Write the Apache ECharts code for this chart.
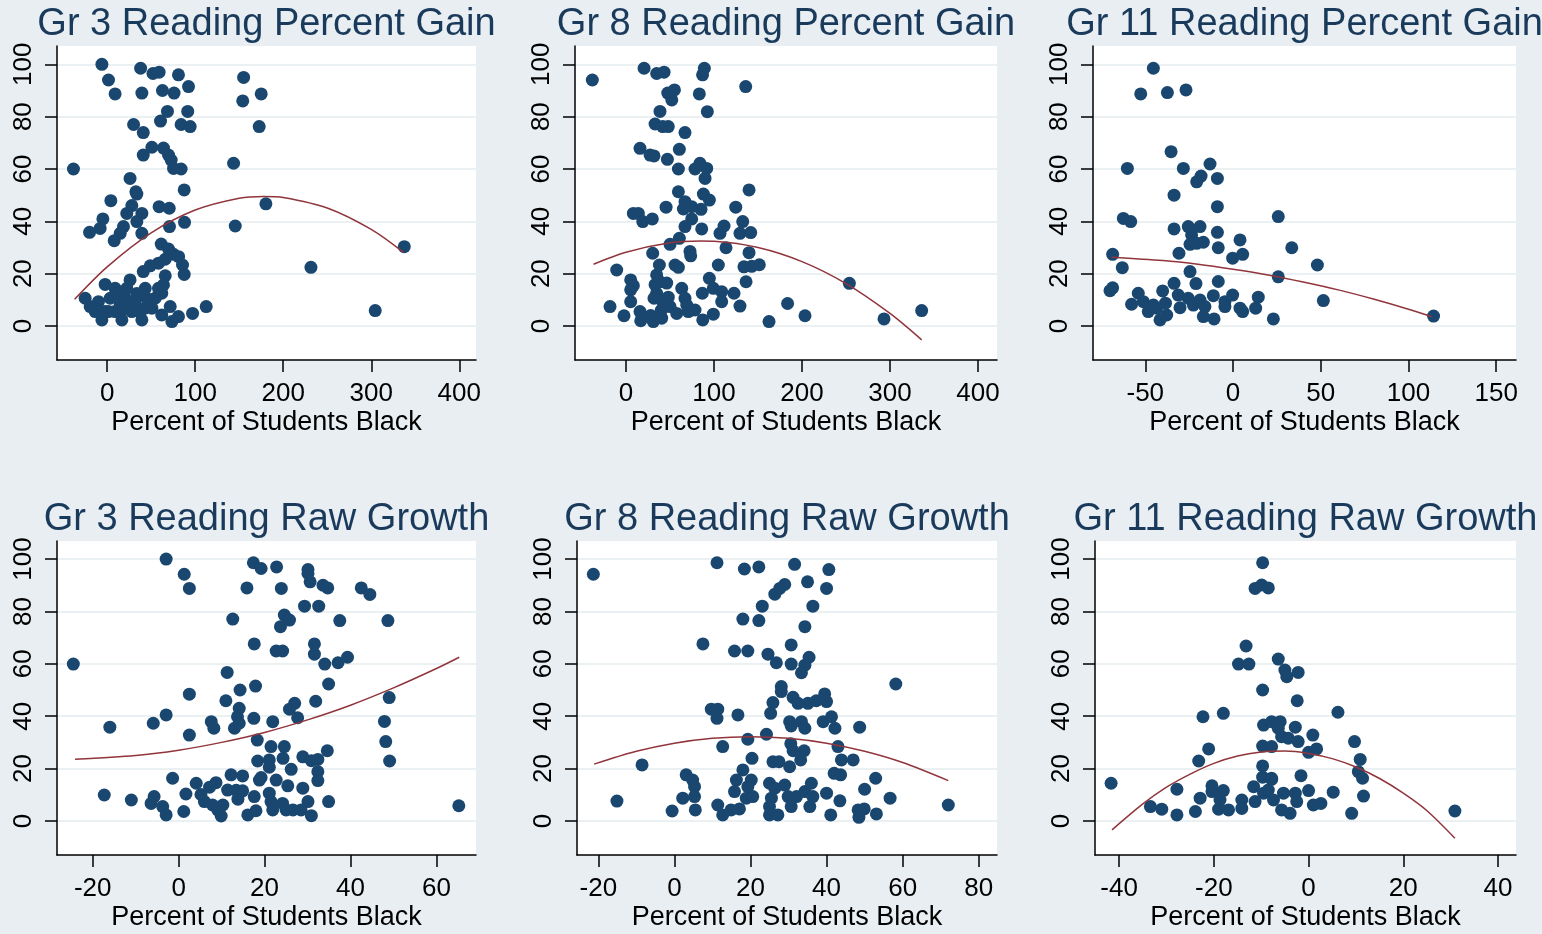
<!DOCTYPE html>
<html><head><meta charset="utf-8">
<script src="https://cdn.jsdelivr.net/npm/echarts@6/dist/echarts.min.js"></script>
<style>html,body{margin:0;padding:0;background:#e8eef2;}#c{width:1542px;height:934px;}</style>
</head><body><div id="c"></div>
<script>
const titles = ['Gr 3 Reading Percent Gain','Gr 8 Reading Percent Gain','Gr 11 Reading Percent Gain','Gr 3 Reading Raw Growth','Gr 8 Reading Raw Growth','Gr 11 Reading Raw Growth'];
const xAxisName = 'Percent of Students Black';
const yTicks = [0,20,40,60,80,100];
const xTicksGr3Pct = [0,100,200,300,400];
const xTicksGr8Pct = [0,100,200,300,400];
const xTicksGr11Pct = [-50,0,50,100,150];
const xTicksGr3Raw = [-20,0,20,40,60];
const xTicksGr8Raw = [-20,0,20,40,60,80];
const xTicksGr11Raw = [-40,-20,0,20,40];

const gr3PctPoints = [[-6,100],[1.5,94],[9,88.7],[38,98.5],[52,96.5],[59,97],[81,96],[92.4,91.5],[39.4,89],[62.8,90],[76,89],[68.5,82],[91.5,82],[60.6,78.3],[84,77],[94.3,76.2],[30,77],[41,73.9],[50.8,68.3],[64,68],[41,65.3],[69.7,65.3],[72.7,63.4],[75.4,60.2],[84,60],[-38.3,60],[143.6,62.2],[155,95],[154,86],[175,88.7],[172.7,76.2],[26,56.4],[32.6,51.3],[33.7,50.4],[87.5,52],[4.2,47.9],[28,46],[22.3,43],[39.4,43],[59,45.6],[70.5,45],[33.7,39.9],[87.9,39.6],[70.8,38],[145.5,38.2],[-4.9,40.9],[-8,37.3],[-20,35.8],[18.5,38],[14.8,35.4],[8,32.6],[39.4,35.4],[180.3,46.7],[337.5,30.3],[231.5,22.4],[304.5,5.9],[112.5,7.4],[61.4,31.3],[69.7,29.4],[75.4,27.4],[81.2,26.5],[85.6,23.3],[87.5,19.7],[65.9,25.5],[58.3,24],[48.9,23],[41,20.8],[66,19.2],[64,15.7],[62,12.5],[-2.3,15.9],[9,14.4],[26,17.6],[22.3,14.4],[43.2,14.4],[-25,10.6],[-19.3,7.4],[-9.9,9.3],[-2.3,5.5],[-6,2.3],[3.4,10.6],[14.8,8],[16.7,2.3],[20.5,10.6],[28,5.5],[31.8,9.3],[39.4,2.3],[37.5,5.5],[45,10.6],[50.8,6.8],[54.5,10.6],[58.3,14.4],[62,4.2],[71.6,7.4],[73.5,1.7],[81,3.6],[97,4.8],[11,12.4],[33.7,12.4],[16.7,6.1],[9,5.5],[26,6.8],[43,6.8],[1.5,5.5],[-13.6,5.5]];
const gr3PctFit = [[-37,10.2],[0,22.6],[50,35.6],[100,44.3],[150,48.8],[178,49.5],[200,49.1],[250,45.1],[300,36.9],[336.7,28.1]];

const gr8PctPoints = [[-38.3,94],[20.5,98.5],[34.8,96.5],[43.2,97],[89,98.5],[87,96],[136,91.5],[47.4,89],[55,90.2],[52,86.4],[83.3,88.7],[92.4,81.9],[38.6,82],[33,77.2],[41.7,76.2],[48,76.2],[67,73.9],[15.9,67.9],[27.3,65.3],[31.8,65],[60.6,67.5],[47,63.7],[84,62.2],[91.7,60.2],[78.4,60],[89.8,56.4],[59.5,60],[59.5,51.3],[87.9,50.4],[94.7,48.1],[67,47.5],[74.6,45.6],[65.2,44.7],[85.2,44.6],[45.5,45.4],[139.8,52],[124.7,45.4],[8.3,43],[14,43],[19,39.9],[29.9,40.9],[74.6,40.9],[67,38],[86,37.1],[111.4,38.2],[106.8,35.4],[132.6,39.9],[129.5,35.4],[141.7,35.7],[50,31.2],[60.6,33.5],[30.3,27.8],[72.7,28.5],[73.5,26.8],[113.6,29.9],[139.8,28],[-10.6,21.4],[37.9,23.3],[55.7,23.3],[59.5,22.4],[104.9,23.3],[134,22.6],[142.8,22.8],[151.5,23.4],[5.3,17.6],[8.3,15.4],[5.3,13.8],[34.8,19.5],[38.6,16.9],[33,15.8],[46.2,16.4],[34.8,12.5],[63.3,14.4],[67,10.6],[94.7,18.2],[99.2,14.4],[108.7,13.1],[122.7,12.5],[86.7,12.5],[136.4,16.9],[-18.2,7.4],[5.3,9.3],[-2.3,3.9],[15.9,5.5],[16.7,2],[31,1.7],[40.5,3],[31.8,10.6],[41.7,9.3],[50,7.4],[57.6,4.8],[69,8],[78.4,6.1],[70.8,5.5],[87.2,2.3],[99.2,4.5],[108.7,9.3],[129.5,7.6],[162.5,1.7],[183.6,8.6],[253.8,16.3],[203.4,3.9],[293.2,2.7],[336,5.9],[40,6],[48,11],[28,4]];
const gr8PctFit = [[-37,23.6],[0,28.2],[50,31.8],[85,32.5],[100,32.4],[150,30],[200,24.6],[250,16.2],[300,4.8],[336,-5.3]];

const gr11PctPoints = [[-45.4,98.5],[-52.6,88.7],[-37.4,89.2],[-26.8,90.2],[-35.3,66.6],[-60.2,60.2],[-28.3,60.2],[-13.1,61.9],[-18.2,57.3],[-20.7,55.1],[-8.9,56.4],[-33.6,50],[-8.9,45.6],[-62.5,41.1],[-58.3,39.9],[25.8,41.8],[-33.6,37.1],[-25.5,38],[-18.8,38],[-23.6,34.8],[-24.5,31.2],[-16.9,32],[-20.7,31.6],[-8.9,35.8],[4,32.9],[-8.4,29.9],[33.5,29.9],[-30.8,27.8],[-68.6,27.4],[-0.2,25.9],[5.5,27.4],[-63.1,22.3],[-24.5,20.8],[48.1,23.3],[25.8,18.8],[-33.6,16.3],[-21.1,16.2],[-8.4,17],[-70.1,13.5],[-68.6,14.6],[-54,12.5],[-40.1,13.4],[-57.8,8.3],[-51.1,9.3],[-48.3,5.5],[-43.5,6.8],[-41.6,2.3],[-37.8,4.2],[-38.5,8.7],[-45.4,8],[-31.2,11.8],[-30.2,7],[-25.5,10.6],[-22.6,8],[-18.8,9.9],[-16,7.4],[-16.9,3.6],[-11.2,11.6],[-10.8,2.7],[-4.6,9.3],[-4.6,7.4],[-0.2,11.8],[4,6.8],[5.5,5.5],[12.9,6.8],[14.4,11],[23,2.7],[51.5,9.7],[114.3,3.8]];
const gr11PctFit = [[-69.2,26.3],[-40,25],[-20,23.6],[0,21.7],[20,19.5],[40,16.8],[60,13.8],[80,10.3],[100,6.4],[113.3,3.5]];

const gr3RawPoints = [[-24.5,59.9],[-2.9,100],[1.3,94.2],[2.5,88.8],[17.4,98.6],[19.2,96.4],[22.8,97],[30.1,96],[30.1,94.5],[30.6,91.3],[33.6,90],[34.7,89],[15.9,89],[23.9,88.8],[42.5,89],[44.5,86.5],[29.3,82],[32.6,82],[12.6,77.1],[24.6,78.6],[25.8,76.7],[23.7,74.2],[37.5,76.5],[48.7,76.5],[17.6,67.6],[22.7,64.9],[24.2,64.9],[31.6,67.6],[31.6,63.7],[34,59.9],[37.1,60.4],[39.3,62.5],[11.3,56.7],[14.3,50],[17.9,51.5],[34.9,52.3],[2.5,48.4],[11,45.9],[27,44.9],[25.8,42.7],[31.9,45.7],[49,47.1],[-2.9,40.5],[-5.9,37.3],[-16,35.8],[7.6,37.9],[8.2,35.4],[14.1,43],[13.7,39.8],[14.1,37.3],[13,35.4],[17.5,39.2],[21.9,37.9],[27.7,39.4],[47.9,38],[2.5,32.8],[48.2,30.3],[18.3,30.9],[21.5,28.4],[24.6,28.4],[34.6,26.8],[18.4,22.9],[21.1,23.3],[21.1,20.5],[24.3,23.9],[26.2,19.7],[28.9,24.5],[30.9,23],[32.4,23.5],[49.1,22.9],[32.4,18.8],[32.4,15.4],[-1.4,16.3],[4.1,14.4],[12.2,17.6],[14.9,17.2],[8.7,14.6],[7.2,12.9],[18.8,15.6],[19.2,16.6],[22.7,15.6],[25.4,13.4],[-17.3,9.9],[-11,8],[-5.7,9.3],[-6.4,6.7],[-3.7,5.5],[-2.9,2.3],[1.2,3.6],[1.7,10.3],[5.2,10.1],[6,7.4],[7.9,6.1],[9.1,4.2],[9.9,1.9],[10.3,6.1],[11.4,11.8],[13.4,11.7],[13.8,8.3],[14.9,11.5],[16.1,2.3],[18,3.9],[17.6,9.3],[21.1,10.6],[21.9,4.2],[21.5,7.4],[24.2,6.7],[25,4.2],[26.6,4.2],[28.5,4.2],[28.9,12.5],[30.1,7.4],[30.9,2],[34.9,7.4],[65.2,5.8]];
const gr3RawFit = [[-24.1,23.6],[-10,25],[0,27],[10,30],[20,33.8],[30,38.6],[40,44.2],[50,50.8],[60,58.2],[65.3,62.5]];

const gr8RawPoints = [[-21.3,94.2],[11.2,98.6],[18.4,96.2],[22.2,97],[31.6,98],[40.6,96],[40,88.8],[35,91.3],[26.4,86.6],[27.7,88.8],[29,90.3],[23.1,82],[36.4,82],[18,77.1],[22.2,76.5],[34.3,74.2],[7.5,67.6],[30.7,67.2],[15.8,64.9],[19.3,64.9],[24.6,63.7],[26.8,60.4],[30.7,59.9],[35.4,62.5],[34.3,59.5],[33.4,56.6],[28.1,51.3],[28.1,49.4],[58.2,52.3],[25.9,45.2],[25.3,41.1],[31.2,47.2],[32.5,44.9],[35.1,44.9],[37.3,45.9],[39.5,48.5],[40,45.6],[9.7,42.7],[11.4,42.7],[11.2,39.2],[16.7,40.5],[30.3,37.9],[30.7,36.3],[33.4,37.9],[34.3,35.4],[39.1,37.9],[41.3,39.8],[42.2,35.4],[48.7,35.8],[24.2,33.1],[19.3,31.2],[12.7,28.4],[30.6,29.5],[31.2,26.8],[34.1,26.8],[33.2,23.3],[43,28.4],[20.4,23.9],[25.9,22.6],[27.5,22.6],[30.3,20.7],[43.9,23.3],[47,23.3],[-8.5,21.4],[3.1,17.6],[4.8,15.6],[5.3,13.1],[5.3,9.3],[2.2,8.7],[-0.6,3.8],[5.5,4.2],[-15.1,7.6],[11.4,6.1],[12.7,2.3],[14.9,4.2],[17.1,4.6],[16.3,15.6],[15.8,11.2],[18,19.5],[19.3,13.1],[20.2,15.6],[18.9,8.7],[20.6,9.3],[25,14.4],[26.4,12.5],[25.5,8.7],[25,5.5],[25,2.3],[27.2,2.3],[29,13.7],[29.9,9.3],[30.7,5.5],[32.1,9.3],[34.3,11.2],[36,14.4],[35.6,5.5],[36.4,9.3],[40,10.6],[41.1,2.3],[42,18.2],[43.7,17.6],[43.5,7.7],[48.3,4.2],[49.9,4.6],[48.5,1.4],[50,12.1],[52.9,16.3],[53.1,2.7],[56.7,8.7],[72,6.1]];
const gr8RawFit = [[-21.1,21.7],[-10,26.6],[0,29.7],[10,31.6],[20,32.2],[30,31.6],[40,29.7],[50,26.6],[60,22.3],[72,15.4]];

const gr11RawPoints = [[-41.7,14.4],[-9.7,98.6],[-11.3,88.8],[-9.9,90.1],[-8.5,89],[-13.2,66.8],[-14.8,59.9],[-12.6,59.9],[-6.4,61.8],[-5,57.6],[-4.6,55.1],[-2.2,56.7],[-9.7,50],[-2.4,45.9],[-22.3,39.8],[-18,41.1],[6.2,41.5],[-9.5,36.6],[-7.8,37.9],[-6,37.9],[-6.4,35.4],[-5.7,32.2],[-4.3,31.6],[-2.8,35.8],[-2.2,30.3],[0.9,32.8],[-9.7,28.6],[-7.8,28.4],[0,26.2],[1.7,27.5],[9.7,30.3],[-21.1,27.5],[-23.2,22.9],[10.9,23.5],[-9.7,21],[10.5,18.8],[11.4,16.3],[11.6,9.5],[-1.6,17.3],[-9.7,16.7],[-7.8,16.3],[-33.4,5.5],[-31,4.5],[-27.8,2.3],[-27.8,12.1],[-23.9,3.6],[-22.9,8.7],[-20.4,13.4],[-20.4,11.2],[-18,11.6],[-18.7,8],[-19,4.5],[-16.9,4.2],[-14.1,8],[-14.1,4.8],[-11.6,13.1],[-11.3,7.4],[-9.5,10.6],[-7.8,15.9],[-8.5,11.8],[-7.4,8],[-5.7,4.2],[-5.3,10.6],[-3.9,2.9],[-2.8,10.6],[-2.5,7.4],[0,11.6],[1,6.1],[2.6,6.7],[5.2,11],[9.1,2.9],[30.9,3.8]];
const gr11RawFit = [[-41.5,-3.4],[-35,6.5],[-30,12.9],[-25,17.9],[-20,22],[-15,24.8],[-10,26.3],[-5,26.7],[0,25.8],[5,23.8],[10,20.6],[15,16.2],[20,10.6],[25,3.9],[30.9,-6.6]];

const FONT = '"Liberation Sans", Arial, Helvetica, sans-serif';
const panels = [
  {pts: gr3PctPoints, fit: gr3PctFit, xt: xTicksGr3Pct, box: [57,46,419,314], xr: [-57,419], yr: [-13,107]},
  {pts: gr8PctPoints, fit: gr8PctFit, xt: xTicksGr8Pct, box: [575,46,422,314], xr: [-58,421.6], yr: [-13,107]},
  {pts: gr11PctPoints, fit: gr11PctFit, xt: xTicksGr11Pct, box: [1093,46,423,314], xr: [-79.8,161.3], yr: [-13,107]},
  {pts: gr3RawPoints, fit: gr3RawFit, xt: xTicksGr3Raw, box: [57,541,419,314], xr: [-28.3,69.2], yr: [-13,106.9]},
  {pts: gr8RawPoints, fit: gr8RawFit, xt: xTicksGr8Raw, box: [577,541,420,314], xr: [-25.6,84.8], yr: [-13,106.9]},
  {pts: gr11RawPoints, fit: gr11RawFit, xt: xTicksGr11Raw, box: [1095,541,421,314], xr: [-45.1,43.8], yr: [-13,106.9]}
];

const chart = echarts.init(document.getElementById('c'), null, {renderer: 'canvas'});
const axisLine = {show: true, onZero: false, lineStyle: {color: '#000', width: 1.5}};
const option = {
  animation: false,
  backgroundColor: '#e8eef2',
  title: panels.map((p, i) => ({
    text: titles[i], left: p.box[0] + p.box[2] / 2, top: p.box[1] - 40, textAlign: 'center', padding: 0,
    textStyle: {fontSize: 38, fontWeight: 'normal', color: '#1a3a5c', fontFamily: FONT}
  })),
  grid: panels.map(p => ({left: p.box[0], top: p.box[1], width: p.box[2], height: p.box[3], show: true, backgroundColor: '#ffffff', borderWidth: 0})),
  xAxis: panels.map((p, i) => ({
    gridIndex: i, type: 'value', min: p.xr[0], max: p.xr[1],
    name: xAxisName, nameLocation: 'middle', nameGap: 49,
    nameTextStyle: {fontSize: 27, color: '#000', fontFamily: FONT},
    axisLine: axisLine,
    axisTick: {show: true, length: 12, customValues: p.xt, lineStyle: {color: '#000', width: 1.5}},
    axisLabel: {customValues: p.xt, fontSize: 26, color: '#000', margin: 21, fontFamily: FONT},
    splitLine: {show: false}
  })),
  yAxis: panels.map((p, i) => ({
    gridIndex: i, type: 'value', min: p.yr[0], max: p.yr[1],
    axisLine: axisLine,
    axisTick: {show: true, length: 12, customValues: yTicks, lineStyle: {color: '#000', width: 1.5}},
    axisLabel: {customValues: yTicks, fontSize: 26, color: '#000', margin: 20, rotate: 90, fontFamily: FONT},
    splitLine: {show: true, lineStyle: {color: '#e4ecef', width: 1.5}}
  })),
  series: []
};
panels.forEach((p, i) => {
  option.series.push({type: 'scatter', xAxisIndex: i, yAxisIndex: i, data: p.pts, symbol: 'circle', symbolSize: 13,
    itemStyle: {color: '#1a476f', opacity: 1}, silent: true, z: 2});
  option.series.push({type: 'line', xAxisIndex: i, yAxisIndex: i, data: p.fit, smooth: 0.3, showSymbol: false,
    lineStyle: {color: '#90353b', width: 1.5}, silent: true, z: 3});
});
chart.setOption(option);
</script></body></html>
